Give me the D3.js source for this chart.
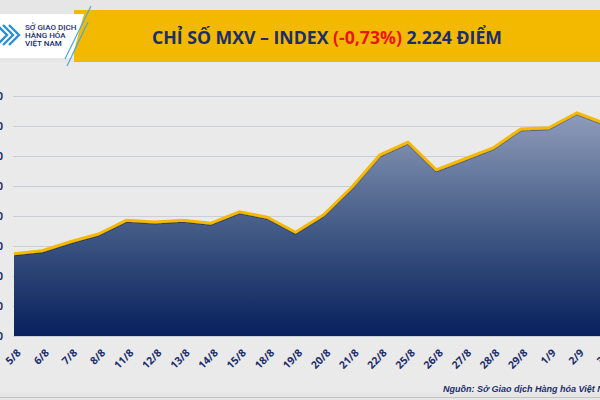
<!DOCTYPE html>
<html>
<head>
<meta charset="utf-8">
<script src="https://cdn.jsdelivr.net/npm/d3@7"></script>
<style>
  html, body { margin: 0; padding: 0; background: #e6e6e6; overflow: hidden; }
  svg { display: block; }
</style>
</head>
<body>
<div id="chart"></div>
<script>
// data (index points)
const dates = ["5/8", "6/8", "7/8", "8/8", "11/8", "12/8", "13/8", "14/8", "15/8", "18/8", "19/8",
               "20/8", "21/8", "22/8", "25/8", "26/8", "27/8", "28/8", "29/8", "1/9", "2/9", "3/9"];
const mxvIndex = [2007, 2012, 2027, 2040, 2063, 2060, 2063, 2058, 2077, 2068, 2043,
                  2072, 2118, 2172, 2193, 2147, 2165, 2183, 2215, 2217, 2242, 2224];
const yTicks = [1870, 1920, 1970, 2020, 2070, 2120, 2170, 2220, 2270];
const titleParts = [
    { text: "CHỈ SỐ MXV – INDEX ", color: "#1b2d6b" },
    { text: "(-0,73%)", color: "#e8161b" },
    { text: " 2.224 ĐIỂM", color: "#1b2d6b" }
];
const logoLines = ["SỞ GIAO DỊCH", "HÀNG HÓA", "VIỆT NAM"];
const sourceText = "Nguồn: Sở Giao dịch Hàng hóa Việt Nam";

function drawChart() {
    const width = 600;
    const height = 400;
    const navy = "#1b2d6b";

    const svg = d3.select("#chart")
        .append("svg")
        .attr("width", width)
        .attr("height", height);

    const defs = svg.append("defs");

    const grad = defs.append("linearGradient")
        .attr("id", "areaFill")
        .attr("gradientUnits", "userSpaceOnUse")
        .attr("x1", 0).attr("x2", 0)
        .attr("y1", 100).attr("y2", 336);
    grad.append("stop").attr("offset", 0).attr("stop-color", "#98a4c0");
    grad.append("stop").attr("offset", 0.6).attr("stop-color", "#3a5380");
    grad.append("stop").attr("offset", 1).attr("stop-color", "#08205d");

    const shadow = defs.append("filter").attr("id", "lineShadow")
        .attr("x", "-5%").attr("y", "-20%").attr("width", "110%").attr("height", "140%");
    shadow.append("feDropShadow")
        .attr("dx", 0).attr("dy", 1).attr("stdDeviation", 0.7)
        .attr("flood-color", "#000").attr("flood-opacity", 0.35);

    // background
    svg.append("rect").attr("width", width).attr("height", height).attr("fill", "#e6e6e6");
    svg.append("rect").attr("x", 0).attr("y", 62).attr("width", width).attr("height", 330)
        .attr("fill", "#ececec").attr("opacity", 0.6);

    // ---------------------
    //      HEADER
    // ---------------------
    svg.append("rect")
        .attr("x", 74).attr("y", 10).attr("width", width - 74).attr("height", 52)
        .attr("fill", "#f2b900");

    svg.append("path")
        .attr("d", "M0,14 L84,14 L72,58 L0,58 Z")
        .attr("fill", "#ffffff");

    svg.append("line")
        .attr("x1", 91).attr("y1", 6).attr("x2", 65).attr("y2", 59)
        .attr("stroke", "#4aa8e0").attr("stroke-width", 1.2);
    svg.append("line")
        .attr("x1", 88).attr("y1", 22).attr("x2", 67).attr("y2", 66)
        .attr("stroke", "#4aa8e0").attr("stroke-width", 1.2);

    // logo chevrons
    const chev = svg.append("g").attr("fill", "none").attr("stroke", "#2a8fd6").attr("stroke-width", 2.4);
    [0, 6, 12].forEach((dx) => {
        chev.append("path").attr("d", `M${dx - 3},25 L${dx + 7},35 L${dx - 3},45`);
    });

    svg.append("g")
        .selectAll("text")
        .data(logoLines)
        .join("text")
        .attr("x", 25)
        .attr("y", (d, i) => 30 + i * 7.8)
        .attr("font-family", "Roboto, sans-serif")
        .attr("font-size", 8)
        .attr("font-weight", 500)
        .attr("fill", navy)
        .text((d) => d);

    const title = svg.append("text")
        .attr("x", 327)
        .attr("y", 43.5)
        .attr("text-anchor", "middle")
        .attr("font-family", "'Open Sans', sans-serif")
        .attr("font-weight", 700)
        .attr("font-size", 17.5)
        .attr("textLength", 350)
        .attr("lengthAdjust", "spacingAndGlyphs");
    titleParts.forEach((p) => {
        title.append("tspan").attr("fill", p.color).text(p.text);
    });

    // ---------------------
    //      SCALES
    // ---------------------
    const xScale = d3.scalePoint()
        .domain(dates)
        .range([14, 14 + 21 * 28.15]);

    const yScale = d3.scaleLinear()
        .domain([1870, 2270])
        .range([336, 96]);

    // Gridlines
    svg.append("g")
        .attr("class", "gridlines")
        .attr("transform", "translate(13, 0)")
        .call(d3.axisLeft(yScale).tickValues(yTicks).tickFormat("").tickSize(-(width - 13)))
        .call((g) => g.select(".domain").remove())
        .call((g) => g.selectAll("line").attr("stroke", "#caced6").attr("stroke-width", 1));

    // Area
    const area = d3.area()
        .x((d, i) => xScale(dates[i]))
        .y0(yScale(1870))
        .y1((d) => yScale(d));

    svg.append("path")
        .datum(mxvIndex)
        .attr("d", area)
        .attr("fill", "url(#areaFill)");

    // Line
    const line = d3.line()
        .x((d, i) => xScale(dates[i]))
        .y((d) => yScale(d));

    svg.append("path")
        .datum(mxvIndex)
        .attr("d", line)
        .attr("fill", "none")
        .attr("stroke", "#f7b800")
        .attr("stroke-width", 3)
        .attr("stroke-linejoin", "round")
        .attr("filter", "url(#lineShadow)");

    // Axes
    const yAxis = d3.axisLeft(yScale)
        .tickValues(yTicks)
        .tickSize(0)
        .tickFormat((d) => d3.format(",")(d).replace(",", "."));

    svg.append("g")
        .attr("transform", "translate(3, 0)")
        .call(yAxis)
        .call((g) => g.select(".domain").remove())
        .call((g) => g.selectAll("text")
            .attr("font-family", "'Open Sans', sans-serif")
            .attr("font-weight", 700)
            .attr("font-size", 10)
            .attr("fill", navy)
            .attr("x", 0));

    svg.append("g")
        .selectAll("text")
        .data(dates)
        .join("text")
        .attr("transform", (d) => `translate(${xScale(d) + 5}, 351) rotate(-45)`)
        .attr("text-anchor", "end")
        .attr("dy", "0.35em")
        .attr("font-family", "'Open Sans', sans-serif")
        .attr("font-weight", 700)
        .attr("font-size", 10.5)
        .attr("fill", navy)
        .text((d) => d);

    // source note
    svg.append("text")
        .attr("x", 443)
        .attr("y", 392)
        .attr("font-family", "'Liberation Sans', Arial, sans-serif")
        .attr("font-weight", 700)
        .attr("font-style", "italic")
        .attr("font-size", 9)
        .attr("fill", navy)
        .text(sourceText);

    svg.append("line")
        .attr("x1", 0).attr("x2", width)
        .attr("y1", 397.5).attr("y2", 397.5)
        .attr("stroke", "#c4c4c4");
}

document.addEventListener("DOMContentLoaded", drawChart);
</script>
</body>
</html>
